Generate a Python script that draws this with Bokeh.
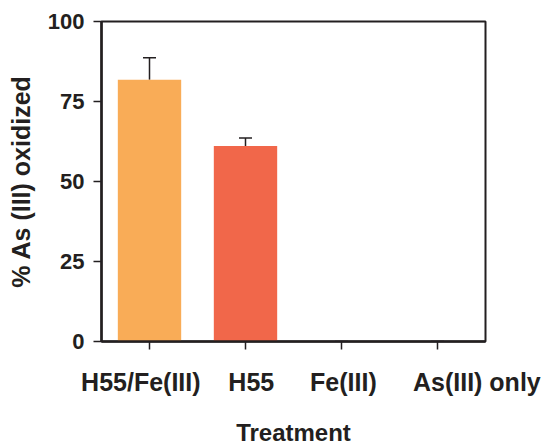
from bokeh.plotting import figure
from bokeh.models import (ColumnDataSource, Whisker, TeeHead, FixedTicker,
                          Range1d, LinearAxis)
from bokeh.embed import file_html
from bokeh.resources import INLINE

categories = ["H55/Fe(III)", "H55", "Fe(III)", "As(III) only"]
values = [81.8, 61.1, 0.0, 0.0]
errors = [6.9, 2.5, 0.0, 0.0]
colors = ["#F9AC57", "#F1674A", "#F1674A", "#F1674A"]
y_ticks = [0, 25, 50, 75, 100]

FONT = "Liberation Sans"
INK = "#231F20"

centers = [i + 0.5 for i in range(len(categories))]

p = figure(
    width=548, height=448,
    x_range=Range1d(0, len(categories)),
    y_range=(0, 100),
    output_backend="svg", toolbar_location=None,
    min_border_left=101, min_border_right=63,
    min_border_top=21, min_border_bottom=107,
)

src = ColumnDataSource(dict(
    x=centers, cat=categories, val=values, col=colors,
    upper=[v + e for v, e in zip(values, errors)],
))
p.vbar(x="x", top="val", width=0.66, fill_color="col", line_color=None, source=src)

w = Whisker(base="x", upper="upper", lower="val", source=src, dimension="height",
            line_color=INK, line_width=1.5,
            upper_head=TeeHead(size=13, line_color=INK, line_width=1.5),
            lower_head=None)
p.add_layout(w)

p.xgrid.visible = False
p.ygrid.visible = False
p.outline_line_color = INK
p.outline_line_width = 2
p.outline_line_alpha = 1

p.yaxis.ticker = FixedTicker(ticks=y_ticks)
p.xaxis.ticker = FixedTicker(ticks=centers)
for ax in (p.xaxis[0], p.yaxis[0]):
    ax.axis_line_color = INK
    ax.axis_line_width = 2.5
    ax.major_tick_line_color = INK
    ax.major_tick_line_width = 1.5
    ax.major_tick_out = 8
    ax.major_tick_in = 0
    ax.minor_tick_line_color = None
    ax.major_label_text_font = FONT
    ax.major_label_text_font_style = "bold"
    ax.major_label_text_color = INK
    ax.axis_label_text_font = FONT
    ax.axis_label_text_font_style = "bold"
    ax.axis_label_text_color = INK

p.yaxis.major_label_text_font_size = "22px"
p.yaxis.major_label_standoff = 9
p.yaxis.axis_label = "% As (III) oxidized"
p.yaxis.axis_label_text_font_size = "25px"
p.yaxis.axis_label_standoff = 10

# tick axis: ticks under bars, labels hidden
p.xaxis.major_label_text_font_size = "0px"
p.xaxis.major_label_standoff = 0
p.xaxis.major_label_overrides = {c: "" for c in centers}

# label axis: the category names as they sit in the original, below the ticks
label_pos = [0.41, 1.56, 2.52, 3.91]
lab_ax = LinearAxis(
    ticker=FixedTicker(ticks=label_pos),
    major_label_overrides={pos: name for pos, name in zip(label_pos, categories)},
    axis_line_color=None, major_tick_line_color=None, minor_tick_line_color=None,
    major_tick_out=0, major_tick_in=0,
    major_label_text_font=FONT, major_label_text_font_style="bold",
    major_label_text_font_size="25px", major_label_text_color=INK,
    major_label_standoff=18,
    axis_label="Treatment", axis_label_text_font=FONT,
    axis_label_text_font_style="bold", axis_label_text_font_size="24px",
    axis_label_text_color=INK, axis_label_standoff=20,
)
p.add_layout(lab_ax, "below")

open("out.html", "w").write(file_html(p, INLINE))
